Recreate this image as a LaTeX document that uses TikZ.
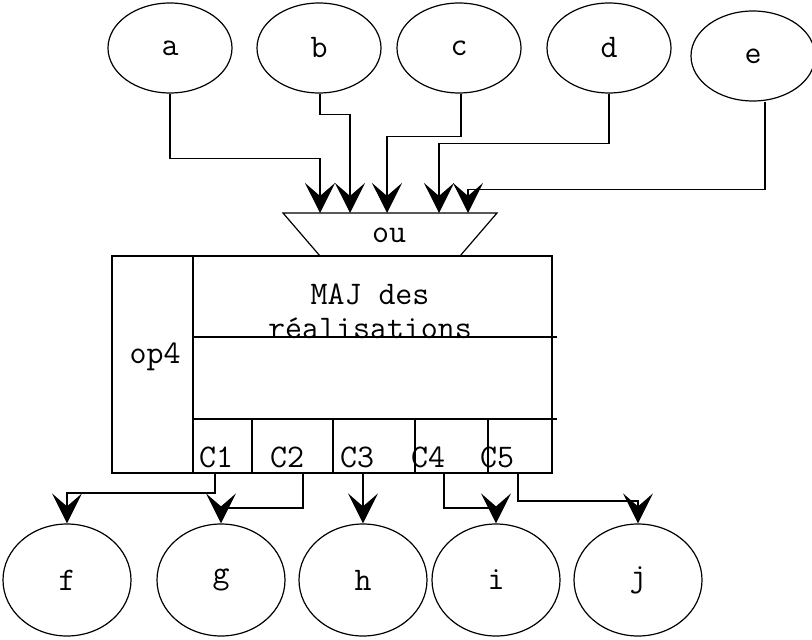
\documentclass[tikz,border=0pt]{standalone}
\usepackage{fontspec}
\usetikzlibrary{positioning}
\usetikzlibrary{shapes.geometric,arrows.meta}

\begin{document}
\begin{tikzpicture}[x=0.5pt,y=-0.5pt,line width=0.6pt,
		font=\ttfamily\fontsize{16.5}{17}\selectfont,
		ent/.style={draw,ellipse,minimum width=62pt,minimum height=45pt,inner sep=0pt},
		sor/.style={draw,ellipse,minimum width=64pt,minimum height=56pt,inner sep=0pt},
		fl/.style={-{Stealth[length=15pt,width=15pt,inset=6.5pt]}}]
		\useasboundingbox (0,0) rectangle (812,640);
		% entrees
		\node[ent] (a) at (170,48) {a};
		\node[ent] (b) at (319,48) {b};
		\node[ent] (c) at (459,48) {c};
		\node[ent] (d) at (609,48) {d};
		\node[ent] (e) at (753,56) {e};
		% porte ou
		\draw (283,213) -- (497,213) -- (460,256) -- (320,256) -- cycle;
		\node (ou) at (389,235) {ou};
		\coordinate (t1) at (320,213);
		\coordinate (t2) at (350,213);
		\coordinate (t3) at (387,213);
		\coordinate (t4) at (439,213);
		\coordinate (t5) at (468,213);
		% operation
		\draw (112,256) rectangle (552,473);
		\draw (193,256) -- (193,473);
		\draw (193,337) -- (557,337);
		\draw (193,419) -- (557,419);
		\foreach \x in {252,333,415,488}
			\draw (\x,419) -- (\x,473);
		\node (op) at (155,357) {op4};
		\node[align=center] (maj) at (370,311) {MAJ des\\réalisations};
		\node (c1) at (216,457) {C1};
		\node (c2) at (287,457) {C2};
		\node (c3) at (357,457) {C3};
		\node (c4) at (428,457) {C4};
		\node (c5) at (497,457) {C5};
		\coordinate (o1) at (215,473);
		\coordinate (o2) at (303,473);
		\coordinate (o3) at (363,473);
		\coordinate (o4) at (444,473);
		\coordinate (o5) at (518,473);
		% sorties
		\node[sor] (f) at (67,580) {f};
		\node[sor] (g) at (221,580) {g};
		\node[sor] (h) at (363,580) {h};
		\node[sor] (i) at (496,580) {i};
		\node[sor] (j) at (638,580) {j};
		\draw[fl] (a.south) -- ++(0,65) -| (t1);
		\draw[fl] ([xshift=0.5pt]b.south) -- ++(0,21) -| (t2);
		\draw[fl] ([xshift=1pt]c.south) -- ++(0,43) -| (t3);
		\draw[fl] (d.south) -- ++(0,50) -| (t4);
		\draw[fl] ([xshift=6pt]e.south) -- ++(0,88) -| (t5);
		\draw[fl] (o1) -- ++(0,20) -| (f.north);
		\draw[fl] (o2) -- ++(0,35) -| (g.north);
		\draw[fl] (o3) -- (h.north);
		\draw[fl] (o4) -- ++(0,35) -| (i.north);
		\draw[fl] (o5) -- ++(0,28) -| (j.north);
\end{tikzpicture}
\end{document}
